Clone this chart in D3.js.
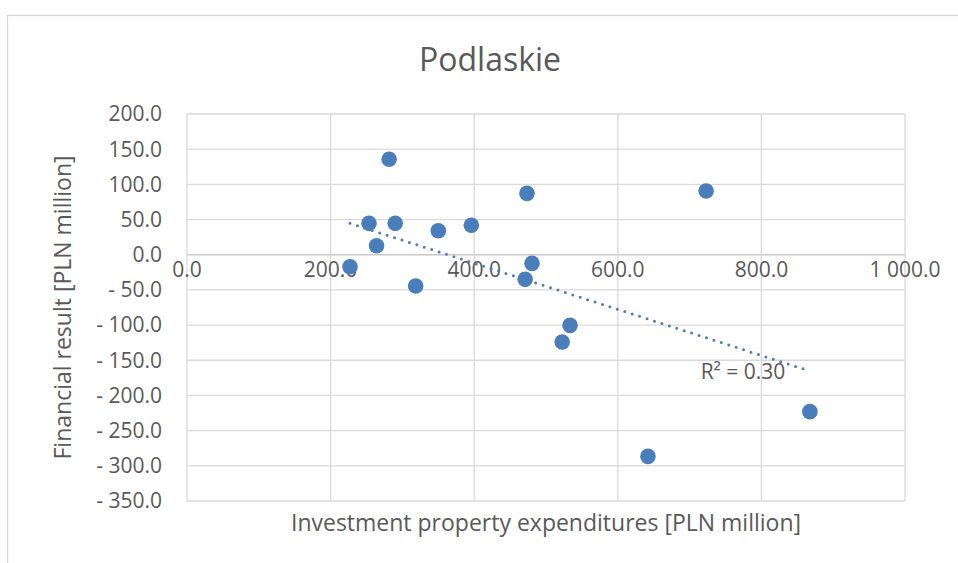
<!DOCTYPE html>
<html>
<head>
<meta charset="utf-8">
<script src="https://cdn.jsdelivr.net/npm/d3@7"></script>
<style>
  body { margin: 0; background: #fff; }
  text { font-family: "Open Sans", "Noto Sans", sans-serif; fill: #595959; }
</style>
</head>
<body>
<div id="chart"></div>
<script>
// values
var title = "Podlaskie";
var xLabel = "Investment property expenditures [PLN million]";
var yLabel = "Financial result [PLN million]";

var expenditures = [227, 253.5, 264, 281.5, 290, 318.5, 350, 396, 473.5, 471, 480.5, 533.5, 522.5, 642, 723, 867.5];
var financial    = [-17, 44.6, 12.8, 135.6, 44.6, -44.5, 34, 41.8, 87.2, -35, -12.3, -100.4, -124, -286.6, 90.5, -223];

// linear trendline ends, as drawn in the picture
var trendX = [227, 866];
var trendY = [44.6, -164.8];
var trendLabel = "R² = 0.30";

var xTicks = [0, 200, 400, 600, 800, 1000];
var yTicks = [200, 150, 100, 50, 0, -50, -100, -150, -200, -250, -300, -350];

function buildChart(){
    var width = 958;
    var height = 563;
    var plot = {left: 187, right: 905, top: 114, bottom: 501};

    var svg = d3.select("#chart")
        .append("svg")
        .attr("width", width)
        .attr("height", height)

    // chart area frame (cut off at right and bottom)
    svg.append("rect")
        .attr("x", 7.5)
        .attr("y", 15.5)
        .attr("width", 1000)
        .attr("height", 1000)
        .attr("fill", "white")
        .attr("stroke", "#d9d9d9")
        .attr("stroke-width", 1.3)

    var x = d3.scaleLinear().domain([0, 1000]).range([plot.left, plot.right]);
    var y = d3.scaleLinear().domain([-350, 200]).range([plot.bottom, plot.top]);

    var fmt = function(v){
        var s = d3.format(",.1f")(Math.abs(v)).replace(/,/g, " ");
        return v < 0 ? "- " + s : s;
    }

    // gridlines
    svg.append("g")
        .selectAll("line")
        .data(yTicks)
        .enter()
        .append("line")
        .attr("x1", plot.left).attr("x2", plot.right)
        .attr("y1", function(d){ return y(d) }).attr("y2", function(d){ return y(d) })
        .attr("stroke", function(d){ return d === 0 ? "#c8c8c8" : "#d9d9d9" })
        .attr("stroke-width", 1.3)

    svg.append("g")
        .selectAll("line")
        .data(xTicks)
        .enter()
        .append("line")
        .attr("y1", plot.top).attr("y2", plot.bottom)
        .attr("x1", function(d){ return x(d) }).attr("x2", function(d){ return x(d) })
        .attr("stroke", "#d9d9d9")
        .attr("stroke-width", 1.3)

    // y tick labels
    svg.append("g")
        .selectAll("text")
        .data(yTicks)
        .enter()
        .append("text")
        .attr("x", 162)
        .attr("y", function(d){ return y(d) })
        .attr("dy", "0.35em")
        .attr("text-anchor", "end")
        .style("font-size", "21px")
        .text(fmt)

    // x tick labels sit along the zero line
    svg.append("g")
        .selectAll("text")
        .data(xTicks)
        .enter()
        .append("text")
        .attr("x", function(d){ return x(d) })
        .attr("y", y(0) + 15)
        .attr("dy", "0.35em")
        .attr("text-anchor", "middle")
        .style("font-size", "21px")
        .text(fmt)

    // dotted trendline
    svg.append("line")
        .attr("x1", x(trendX[0])).attr("y1", y(trendY[0]))
        .attr("x2", x(trendX[1])).attr("y2", y(trendY[1]))
        .attr("stroke", "#4a7ebb")
        .attr("stroke-width", 3)
        .attr("stroke-linecap", "round")
        .attr("stroke-dasharray", "0 7.8")

    // points
    svg.append("g")
        .selectAll("circle")
        .data(expenditures)
        .enter()
        .append("circle")
        .attr("cx", function(d){ return x(d) })
        .attr("cy", function(d, i){ return y(financial[i]) })
        .attr("r", 7.8)
        .attr("fill", "#4a7ebb")

    svg.append("text")
        .attr("x", 743)
        .attr("y", 372)
        .attr("dy", "0.35em")
        .attr("text-anchor", "middle")
        .style("font-size", "21px")
        .text(trendLabel)

    // titles
    svg.append("text")
        .attr("x", 490)
        .attr("y", 60)
        .attr("dy", "0.35em")
        .attr("text-anchor", "middle")
        .style("font-size", "32px")
        .text(title)

    svg.append("text")
        .attr("x", (plot.left + plot.right) / 2)
        .attr("y", 523)
        .attr("dy", "0.35em")
        .attr("text-anchor", "middle")
        .style("font-size", "23px")
        .text(xLabel)

    svg.append("text")
        .attr("transform", "translate(63," + ((plot.top + plot.bottom) / 2) + ") rotate(-90)")
        .attr("dy", "0.35em")
        .attr("text-anchor", "middle")
        .style("font-size", "23px")
        .text(yLabel)
}

buildChart();
</script>
</body>
</html>
